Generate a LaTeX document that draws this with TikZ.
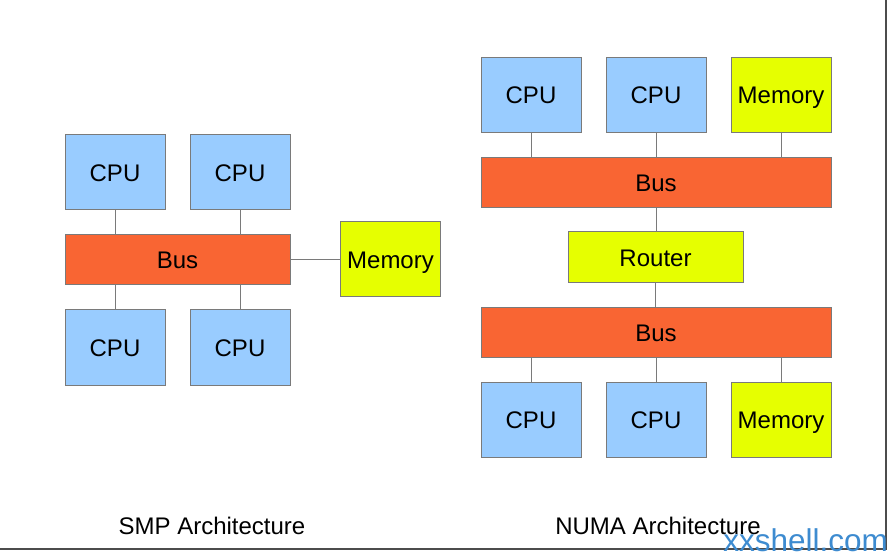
\documentclass[tikz,border=0pt]{standalone}
\usepackage{fontspec}
\setmainfont{Liberation Sans}
\definecolor{cpublue}{HTML}{99CCFF}
\definecolor{busred}{HTML}{F96533}
\definecolor{memyellow}{HTML}{E6FF00}
\definecolor{edgegray}{HTML}{7A7A7A}
\definecolor{markblue}{HTML}{3D8BD0}
\tikzset{
  unit/.style={draw=edgegray, line width=1pt, inner sep=0pt, outer sep=0pt,
    text height=17.2pt, text depth=0pt, font=\fontsize{24}{28}\selectfont},
  cpu/.style={unit, fill=cpublue, minimum width=100pt, minimum height=75pt},
  mem/.style={unit, fill=memyellow, minimum width=100pt, minimum height=75pt},
  bus/.style={unit, fill=busred, minimum height=50pt},
  link/.style={edgegray, line width=1pt}
}
\begin{document}
\begin{tikzpicture}[x=1pt,y=-1pt]
      \useasboundingbox (0,0) rectangle (889,553);
      % SMP
      \draw
        (115,172.5) node[cpu] (s1){CPU}
        (240,172.5) node[cpu] (s2){CPU}
        (115,347.5) node[cpu] (s3){CPU}
        (240,347.5) node[cpu] (s4){CPU}
        (177.5,260) node[bus, minimum width=225pt] (sbus){Bus}
        (390.5,259.5) node[mem] (smem){Memory}
        (212,526) node[font=\fontsize{24}{28}\selectfont] (stitle){SMP Architecture};
      % NUMA
      \draw
        (531,95) node[cpu] (n1){CPU}
        (656,95) node[cpu] (n2){CPU}
        (781,95) node[mem] (nm1){Memory}
        (656,182.5) node[bus, minimum width=350pt] (nbus1){Bus}
        (655.5,257.5) node[unit, fill=memyellow, minimum width=175pt, minimum height=51pt] (router){Router}
        (656,332.5) node[bus, minimum width=350pt] (nbus2){Bus}
        (531,419.5) node[cpu] (n3){CPU}
        (656,419.5) node[cpu] (n4){CPU}
        (781,419.5) node[mem] (nm2){Memory}
        (658,526) node[font=\fontsize{24}{28}\selectfont] (ntitle){NUMA Architecture};
      \begin{scope}[link]
        \draw (s1.south) to (s1.south |- sbus.north);
        \draw (s2.south) to (s2.south |- sbus.north);
        \draw (s3.north) to (s3.north |- sbus.south);
        \draw (s4.north) to (s4.north |- sbus.south);
        \draw (sbus.east) to (smem.west |- sbus.east);
        \draw (n1.south) to (n1.south |- nbus1.north);
        \draw (n2.south) to (n2.south |- nbus1.north);
        \draw (nm1.south) to (nm1.south |- nbus1.north);
        \draw (nbus1.south) to (nbus1.south |- router.north);
        \draw (router.south) to (router.south |- nbus2.north);
        \draw (n3.north) to (n3.north |- nbus2.south);
        \draw (n4.north) to (n4.north |- nbus2.south);
        \draw (nm2.north) to (nm2.north |- nbus2.south);
      \end{scope}
      % frame and mark
      \draw[line width=2pt, black!70] (0,549) -| (886,0);
      \node[anchor=base east, inner sep=0pt, text=markblue,
        font=\fontsize{31.5}{33}\selectfont] (mark) at (888,551) {xxshell.com};
\end{tikzpicture}
\end{document}
